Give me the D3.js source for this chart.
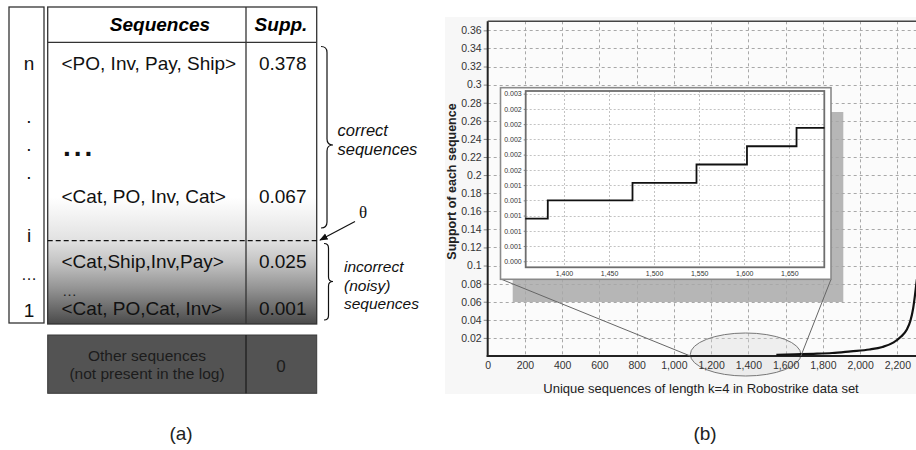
<!DOCTYPE html>
<html>
<head>
<meta charset="utf-8">
<script src="https://cdn.jsdelivr.net/npm/d3@7"></script>
<style>
  body { margin: 0; background: #fff; }
  svg { display: block; font-family: "Liberation Sans", Arial, sans-serif; }
</style>
</head>
<body>
<svg id="fig" width="916" height="450"></svg>
<script>
// ---- panel (a): the table ----
const indexLabels = ['n', '.', '.', '.', 'i', '\u2026', '1'];
const sequences = ['<PO, Inv, Pay, Ship>', '<Cat, PO, Inv, Cat>', '<Cat,Ship,Inv,Pay>', '<Cat, PO,Cat, Inv>'];
const supports = ['0.378', '0.067', '0.025', '0.001'];
const otherLabel = ['Other sequences', '(not present in the log)'];
const otherSupport = '0';

// ---- panel (b): support curve ----
const mainX = [1550, 1650, 1750, 1850, 1950, 2050, 2120, 2180, 2220, 2250, 2270, 2285, 2295, 2305];
const mainY = [0.0012, 0.0018, 0.0024, 0.0033, 0.0052, 0.0072, 0.0100, 0.0150, 0.0215, 0.0290, 0.0390, 0.0530, 0.0680, 0.0850];
const yTicks = [0.02, 0.04, 0.06, 0.08, 0.1, 0.12, 0.14, 0.16, 0.18, 0.2, 0.22, 0.24, 0.26, 0.28, 0.3, 0.32, 0.34, 0.36];
const xTicks = [0, 200, 400, 600, 800, 1000, 1200, 1400, 1600, 1800, 2000, 2200];

// zoomed inset
const stepX = [1357, 1382, 1476, 1547, 1603, 1658, 1689];
const stepY = [0.00096, 0.0012, 0.00143, 0.00167, 0.00191, 0.00215, 0.00215];
const insetYTicks = [0.0004, 0.0006, 0.0008, 0.001, 0.0012, 0.0014, 0.0016, 0.0018, 0.002, 0.0022, 0.0024, 0.0026];
const insetYLabels = ['0.000', '0.001', '0.001', '0.001', '0.001', '0.001', '0.002', '0.002', '0.002', '0.002', '0.002', '0.003'];
const insetXTicks = [1400, 1450, 1500, 1550, 1600, 1650];

const svg = d3.select('#fig');
const font = '"Liberation Sans", Arial, sans-serif';

// ================= panel (a) =================
const tL = 47.7, tR = 316.7, tTop = 7, tHead = 42.3, tBot = 324, tCol = 246;

const defs = svg.append('defs');
const grad = defs.append('linearGradient')
  .attr('id', 'bodyGrad')
  .attr('gradientUnits', 'userSpaceOnUse')
  .attr('x1', 0).attr('y1', tHead).attr('x2', 0).attr('y2', tBot);
[[0, '#ffffff'], [0.55, '#ffffff'], [0.7, '#e2e2e2'], [0.78, '#c4c4c4'], [0.88, '#909090'], [1, '#4a4a4a']]
  .forEach(function(s) { grad.append('stop').attr('offset', s[0]).attr('stop-color', s[1]); });

defs.append('marker')
  .attr('id', 'arrow')
  .attr('viewBox', '0 0 10 10')
  .attr('refX', 9).attr('refY', 5)
  .attr('markerWidth', 7).attr('markerHeight', 7)
  .attr('orient', 'auto')
  .append('path').attr('d', 'M0,1 L10,5 L0,9 Z').attr('fill', '#111');

// index column box
svg.append('rect')
  .attr('x', 9).attr('y', tTop).attr('width', 35).attr('height', 316)
  .attr('fill', '#fff').attr('stroke', '#333').attr('stroke-width', 1.3);

// main table
svg.append('rect')
  .attr('x', tL).attr('y', tHead).attr('width', tR - tL).attr('height', tBot - tHead)
  .attr('fill', 'url(#bodyGrad)');
svg.append('rect')
  .attr('x', tL).attr('y', tTop).attr('width', tR - tL).attr('height', tBot - tTop)
  .attr('fill', 'none').attr('stroke', '#333').attr('stroke-width', 1.3);
svg.append('line')
  .attr('x1', tL).attr('x2', tR).attr('y1', tHead).attr('y2', tHead)
  .attr('stroke', '#333').attr('stroke-width', 1.3);
svg.append('line')
  .attr('x1', tCol).attr('x2', tCol).attr('y1', tTop).attr('y2', tBot)
  .attr('stroke', '#333').attr('stroke-width', 1.3);

// threshold line
svg.append('line')
  .attr('x1', tL).attr('x2', tR + 2).attr('y1', 240.7).attr('y2', 240.7)
  .attr('stroke', '#111').attr('stroke-width', 1.2).attr('stroke-dasharray', '5,3');

// header
svg.append('text').attr('x', 160).attr('y', 24).text('Sequences')
  .attr('text-anchor', 'middle').attr('dominant-baseline', 'central')
  .attr('font-size', 19).attr('font-weight', 'bold').attr('font-style', 'italic');
svg.append('text').attr('x', 281).attr('y', 24).text('Supp.')
  .attr('text-anchor', 'middle').attr('dominant-baseline', 'central')
  .attr('font-size', 19).attr('font-weight', 'bold').attr('font-style', 'italic');

// index labels
const indexY = [63.3, 116, 144.5, 172, 235, 274, 310];
svg.selectAll('.idx').data(indexLabels).enter().append('text')
  .attr('class', 'idx')
  .attr('x', 29).attr('y', function(d, i) { return indexY[i]; })
  .attr('text-anchor', 'middle').attr('dominant-baseline', 'central')
  .attr('font-size', function(d) { return d == '\u2026' ? 16 : 19; })
  .attr('fill', '#111')
  .text(function(d) { return d; });

// rows
const rowY = [63.3, 196.7, 261.7, 308.3];
svg.selectAll('.seq').data(sequences).enter().append('text')
  .attr('class', 'seq')
  .attr('x', 61.5).attr('y', function(d, i) { return rowY[i]; })
  .attr('dominant-baseline', 'central')
  .attr('font-size', 19).attr('fill', '#111')
  .text(function(d) { return d; });
svg.selectAll('.sup').data(supports).enter().append('text')
  .attr('class', 'sup')
  .attr('x', 306.5).attr('y', function(d, i) { return rowY[i]; })
  .attr('text-anchor', 'end').attr('dominant-baseline', 'central')
  .attr('font-size', 19).attr('fill', '#111')
  .text(function(d) { return d; });

// ellipses inside the table
svg.append('text').attr('x', 63).attr('y', 156).text('...')
  .attr('font-size', 28).attr('font-weight', 'bold').attr('letter-spacing', 3).attr('fill', '#111');
svg.append('text').attr('x', 62).attr('y', 290).text('\u2026')
  .attr('dominant-baseline', 'central').attr('font-size', 15).attr('fill', '#222');

// other sequences
svg.append('rect')
  .attr('x', tL).attr('y', 335).attr('width', tR - tL).attr('height', 58.3)
  .attr('fill', '#535353').attr('stroke', '#3a3a3a').attr('stroke-width', 1);
svg.append('line')
  .attr('x1', tCol).attr('x2', tCol).attr('y1', 335).attr('y2', 393.3)
  .attr('stroke', '#1e1e1e').attr('stroke-width', 1.3);
svg.selectAll('.oth').data(otherLabel).enter().append('text')
  .attr('class', 'oth')
  .attr('x', 147).attr('y', function(d, i) { return 355 + i * 18.5; })
  .attr('text-anchor', 'middle').attr('dominant-baseline', 'central')
  .attr('font-size', 15.5).attr('fill', '#1c1c1c')
  .text(function(d) { return d; });
svg.append('text').attr('x', 281).attr('y', 366).text(otherSupport)
  .attr('text-anchor', 'middle').attr('dominant-baseline', 'central')
  .attr('font-size', 17).attr('fill', '#1c1c1c');

// braces
function brace(x, y1, y2, ym, w) {
  const h = w / 2;
  const r = h;
  return 'M' + x + ',' + y1 +
    ' Q' + (x + h) + ',' + y1 + ' ' + (x + h) + ',' + (y1 + r) +
    ' L' + (x + h) + ',' + (ym - r) +
    ' Q' + (x + h) + ',' + ym + ' ' + (x + w) + ',' + ym +
    ' Q' + (x + h) + ',' + ym + ' ' + (x + h) + ',' + (ym + r) +
    ' L' + (x + h) + ',' + (y2 - r) +
    ' Q' + (x + h) + ',' + y2 + ' ' + x + ',' + y2;
}
svg.append('path').attr('d', brace(321, 46.5, 228, 145, 12))
  .attr('fill', 'none').attr('stroke', '#111').attr('stroke-width', 1.2);
svg.append('path').attr('d', brace(324, 243.5, 320, 281.5, 9))
  .attr('fill', 'none').attr('stroke', '#111').attr('stroke-width', 1.2);

const braceText = [
  { lines: ['correct', 'sequences'], x: 337.5, y: 130, dy: 18.5, size: 16.5 },
  { lines: ['incorrect', '(noisy)', 'sequences'], x: 344, y: 266.5, dy: 18.7, size: 15.5 }
];
braceText.forEach(function(b) {
  b.lines.forEach(function(l, i) {
    svg.append('text').attr('x', b.x).attr('y', b.y + i * b.dy).text(l)
      .attr('dominant-baseline', 'central').attr('font-style', 'italic')
      .attr('font-size', b.size).attr('fill', '#111');
  });
});

// theta arrow
svg.append('line')
  .attr('x1', 355).attr('y1', 221.5).attr('x2', 320).attr('y2', 240)
  .attr('stroke', '#111').attr('stroke-width', 1.2).attr('marker-end', 'url(#arrow)');
svg.append('text').attr('x', 363).attr('y', 212).text('\u03b8')
  .attr('text-anchor', 'middle').attr('dominant-baseline', 'central')
  .attr('font-family', '"Liberation Serif", "DejaVu Serif", serif').attr('font-size', 17).attr('fill', '#111');

// ================= panel (b) =================
svg.append('rect')
  .attr('x', 445).attr('y', 17).attr('width', 471).attr('height', 377)
  .attr('fill', '#f7f7f7');

const x = d3.scaleLinear().domain([0, 2300]).range([487.7, 916]);
const y = d3.scaleLinear().domain([0, 0.37]).range([356, 21.3]);

svg.append('rect')
  .attr('x', x(0)).attr('y', y(0.37)).attr('width', 916 - x(0)).attr('height', y(0) - y(0.37))
  .attr('fill', '#fbfbfb');

// shadow behind the inset
svg.append('rect')
  .attr('x', 512.7).attr('y', 112).attr('width', 843.3 - 512.7).attr('height', 302 - 112)
  .attr('fill', '#b6b6b6');

// grid
const grid = svg.append('g').attr('stroke', '#a8a8a8').attr('stroke-width', 1).attr('stroke-dasharray', '3,3');
grid.selectAll('.gy').data(yTicks).enter().append('line')
  .attr('x1', x(0)).attr('x2', 916)
  .attr('y1', function(d) { return Math.round(y(d)) + 0.5; })
  .attr('y2', function(d) { return Math.round(y(d)) + 0.5; });
grid.selectAll('.gx').data(xTicks.slice(1)).enter().append('line')
  .attr('x1', function(d) { return Math.round(x(d)) + 0.5; })
  .attr('x2', function(d) { return Math.round(x(d)) + 0.5; })
  .attr('y1', y(0.37)).attr('y2', y(0));

// zoom ellipse
const ellCx = x(1385), ellRx = x(1682) - x(1385);
svg.append('ellipse')
  .attr('cx', ellCx).attr('cy', y(0) - 1.5).attr('rx', ellRx).attr('ry', 21.5)
  .attr('fill', 'rgba(215,215,215,0.35)').attr('stroke', '#777').attr('stroke-width', 1);

// axes
const yAxis = svg.append('g').attr('transform', 'translate(' + x(0) + ',0)')
  .call(d3.axisLeft(y).tickValues(yTicks).tickSize(4).tickPadding(2)
    .tickFormat(function(d) { return String(+d.toFixed(2)); }));
const xAxis = svg.append('g').attr('transform', 'translate(0,' + y(0) + ')')
  .call(d3.axisBottom(x).tickValues(xTicks).tickSize(0).tickPadding(6).tickFormat(d3.format(',')));
[yAxis, xAxis].forEach(function(a) {
  a.select('.domain').remove();
  a.selectAll('text').attr('font-family', font).attr('font-size', 10.5).attr('fill', '#333');
  a.selectAll('line').attr('stroke', '#888');
});
svg.append('line').attr('x1', x(0)).attr('x2', x(0)).attr('y1', y(0.37)).attr('y2', y(0) + 1)
  .attr('stroke', '#222').attr('stroke-width', 2);
svg.append('line').attr('x1', x(0)).attr('x2', 916).attr('y1', y(0.37)).attr('y2', y(0.37))
  .attr('stroke', '#444').attr('stroke-width', 1.5);
svg.append('line').attr('x1', x(0) - 1).attr('x2', 916).attr('y1', y(0)).attr('y2', y(0))
  .attr('stroke', '#222').attr('stroke-width', 2);

// support curve
const mainLine = d3.line().x(function(d) { return x(d[0]); }).y(function(d) { return y(d[1]); }).curve(d3.curveMonotoneX);
svg.append('path')
  .datum(d3.zip(mainX, mainY))
  .attr('d', mainLine)
  .attr('fill', 'none').attr('stroke', '#111').attr('stroke-width', 2.2);

// zoom connector lines
svg.append('line').attr('x1', 501.5).attr('y1', 279.3).attr('x2', ellCx - ellRx).attr('y2', y(0))
  .attr('stroke', '#666').attr('stroke-width', 1);
svg.append('line').attr('x1', 831).attr('y1', 279.3).attr('x2', ellCx + ellRx).attr('y2', y(0))
  .attr('stroke', '#666').attr('stroke-width', 1);

// axis titles
svg.append('text')
  .attr('transform', 'translate(452,181.5) rotate(-90)')
  .attr('text-anchor', 'middle').attr('dominant-baseline', 'central')
  .attr('font-size', 12.5).attr('font-weight', 'bold').attr('fill', '#222')
  .text('Support of each sequence');
svg.append('text')
  .attr('x', 701).attr('y', 388)
  .attr('text-anchor', 'middle').attr('dominant-baseline', 'central')
  .attr('font-size', 13).attr('fill', '#222')
  .text('Unique sequences of length k=4 in Robostrike data set');

// ---- inset ----
svg.append('rect')
  .attr('x', 500.5).attr('y', 87.7).attr('width', 330.5).attr('height', 191.6)
  .attr('fill', '#fff').attr('stroke', '#8a8a8a').attr('stroke-width', 1.6);

const ix = d3.scaleLinear().domain([1357.5, 1688.8]).range([525.7, 824.3]);
const iy = d3.scaleLinear().domain([0.000321, 0.002635]).range([267.3, 91]);

const igrid = svg.append('g').attr('stroke', '#b4b4b4').attr('stroke-width', 0.8).attr('stroke-dasharray', '2,2');
igrid.selectAll('.igy').data(insetYTicks).enter().append('line')
  .attr('x1', ix.range()[0]).attr('x2', ix.range()[1])
  .attr('y1', function(d) { return Math.round(iy(d)) + 0.5; })
  .attr('y2', function(d) { return Math.round(iy(d)) + 0.5; });
igrid.selectAll('.igx').data(insetXTicks).enter().append('line')
  .attr('x1', function(d) { return Math.round(ix(d)) + 0.5; })
  .attr('x2', function(d) { return Math.round(ix(d)) + 0.5; })
  .attr('y1', iy.range()[1]).attr('y2', iy.range()[0]);

const iyAxis = svg.append('g').attr('transform', 'translate(' + ix.range()[0] + ',0)')
  .call(d3.axisLeft(iy).tickValues(insetYTicks).tickSize(2).tickPadding(2)
    .tickFormat(function(d, i) { return insetYLabels[i]; }));
const ixAxis = svg.append('g').attr('transform', 'translate(0,' + iy.range()[0] + ')')
  .call(d3.axisBottom(ix).tickValues(insetXTicks).tickSize(0).tickPadding(4).tickFormat(d3.format(',')));
[iyAxis, ixAxis].forEach(function(a) {
  a.select('.domain').remove();
  a.selectAll('text').attr('font-family', font).attr('font-size', 7).attr('fill', '#333');
  a.selectAll('line').attr('stroke', '#888');
});

svg.append('rect')
  .attr('x', ix.range()[0]).attr('y', iy.range()[1])
  .attr('width', ix.range()[1] - ix.range()[0]).attr('height', iy.range()[0] - iy.range()[1])
  .attr('fill', 'none').attr('stroke', '#6e6e6e').attr('stroke-width', 1.8);

const stepLine = d3.line().x(function(d) { return ix(d[0]); }).y(function(d) { return iy(d[1]); }).curve(d3.curveStepAfter);
svg.append('path')
  .datum(d3.zip(stepX, stepY))
  .attr('d', stepLine)
  .attr('fill', 'none').attr('stroke', '#111').attr('stroke-width', 1.8);

// panel captions
svg.append('text').attr('x', 181).attr('y', 433).text('(a)')
  .attr('text-anchor', 'middle').attr('dominant-baseline', 'central')
  .attr('font-size', 19).attr('fill', '#222');
svg.append('text').attr('x', 705).attr('y', 433).text('(b)')
  .attr('text-anchor', 'middle').attr('dominant-baseline', 'central')
  .attr('font-size', 19).attr('fill', '#222');
</script>
</body>
</html>
